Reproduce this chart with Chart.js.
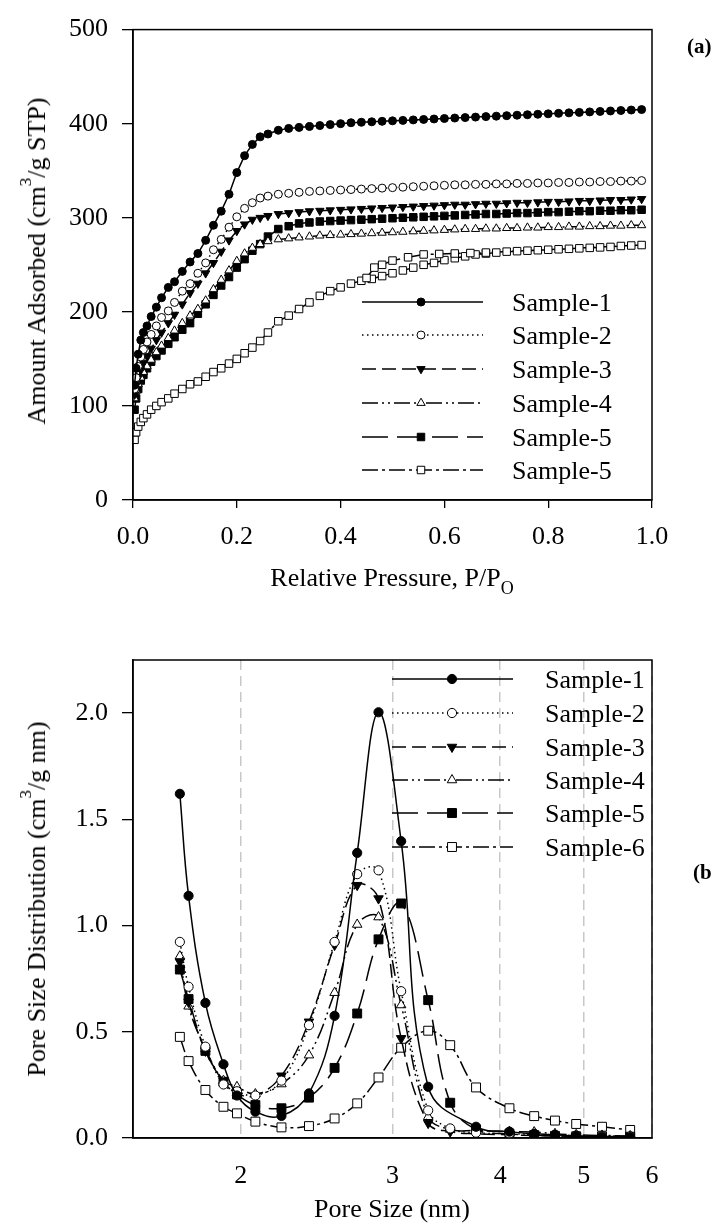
<!DOCTYPE html>
<html>
<head>
<meta charset="utf-8">
<script src="https://cdn.jsdelivr.net/npm/chart.js@4.4.1/dist/chart.umd.min.js"></script>
<style>
  body { margin: 0; background: #fff; width: 712px; height: 1226px; position: relative; overflow: hidden; font-family: "Liberation Serif", "Times New Roman", serif; color: #000; }
  canvas { position: absolute; left: 0; }
  .t { position: absolute; font-size: 26px; line-height: 26px; white-space: nowrap; }
  .yt { transform: translate(-50%, -50%) rotate(-90deg); }
  .xt { transform: translateX(-50%); }
  .t sup { font-size: 17px; line-height: 0; vertical-align: 14px; }
  .t sub { font-size: 18px; line-height: 0; vertical-align: -8px; }
  .tag { position: absolute; font-weight: bold; font-size: 21px; line-height: 21px; white-space: nowrap; }
</style>
</head>
<body>
<canvas id="isotherm" width="712" height="610" style="top:0;width:712px;height:610px"></canvas>
<canvas id="psd" width="712" height="616" style="top:610px;width:712px;height:616px"></canvas>

<div class="t yt" style="left:37px;top:261px">Amount Adsorbed (cm<sup>3</sup>/g STP)</div>
<div class="t xt" style="left:392px;top:565px">Relative Pressure, P/P<sub>O</sub></div>
<div class="tag" style="left:687px;top:36px">(a)</div>

<div class="t yt" style="left:37px;top:899px">Pore Size Distribution (cm<sup>3</sup>/g nm)</div>
<div class="t xt" style="left:392px;top:1196px">Pore Size (nm)</div>
<div class="tag" style="left:693px;top:862px">(b)</div>

<script>
// ---- (a) nitrogen isotherms ----
const pressure = [0.003, 0.006, 0.01, 0.015, 0.02, 0.027, 0.035, 0.045, 0.055, 0.068, 0.08, 0.095, 0.11, 0.125, 0.14, 0.155, 0.17, 0.185, 0.2, 0.215, 0.23, 0.245, 0.26, 0.28, 0.3,
  0.32, 0.34, 0.36, 0.38, 0.4, 0.42, 0.44, 0.46, 0.48, 0.5, 0.52, 0.54, 0.56, 0.58, 0.6, 0.62, 0.64, 0.66, 0.68, 0.7,
  0.72, 0.74, 0.76, 0.78, 0.8, 0.82, 0.84, 0.86, 0.88, 0.9, 0.92, 0.94, 0.96, 0.98];

const sample1Ads = [122, 140, 155, 170, 178, 185, 195, 205, 215, 226, 232, 243, 253, 262, 276, 292, 307, 325, 348, 366, 378, 386, 389, 393, 395,
  396, 397, 398, 399, 400, 401, 401.5, 402, 402.5, 403, 403.5, 404, 404.5, 405, 405.5, 406, 406.5, 407, 407.5, 408,
  408.5, 409, 409.5, 410, 410.5, 411, 411.5, 412, 412.5, 413, 413.5, 414, 414.5, 415];
const sample2Ads = [118, 130, 142, 152, 160, 168, 176, 185, 194, 201, 210, 222, 230, 241, 252, 266, 277, 290, 301, 310, 316, 321, 323, 325, 326,
  327, 328, 328.5, 329, 329.5, 330, 330.5, 331, 331.5, 332, 332.5, 333, 333.5, 334, 334.5, 335, 335, 335.5, 335.5, 336,
  336, 336.5, 336.5, 337, 337, 337.5, 337.5, 338, 338, 338.5, 338.5, 339, 339, 339.5];
const sample3Ads = [112, 122, 130, 138, 146, 153, 161, 170, 178, 188, 197, 208, 220, 230, 241, 252, 264, 276, 286, 293, 298, 300, 302, 304, 305,
  306, 307, 307.5, 308, 308.5, 309, 309.5, 310, 310.5, 311, 311.5, 312, 312.5, 313, 313.5, 314, 314, 314.5, 315, 315,
  315.5, 316, 316, 316.5, 317, 317, 317.5, 318, 318, 318.5, 319, 319, 319.5, 320];
const sample4Ads = [108, 116, 123, 130, 136, 142, 149, 157, 164, 172, 180, 188, 196, 203, 212, 224, 234, 244, 254, 262, 268, 272, 275, 277, 278,
  279, 280, 281, 281.5, 282, 282.5, 283, 283.5, 284, 284.5, 285, 285.5, 286, 286.5, 287, 287.5, 288, 288, 288.5, 288.5,
  289, 289, 289.5, 289.5, 290, 290, 290.5, 290.5, 291, 291, 291.5, 291.5, 292, 292];
const sample5Ads = [96, 108, 118, 127, 133, 140, 147, 153, 159, 166, 173, 181, 188, 198, 208, 218, 228, 237, 247, 256, 265, 272, 280, 288, 291,
  294, 295, 296, 296.5, 297, 297.5, 298, 298.5, 299, 299.5, 300, 300.5, 301, 301.5, 302, 302.5, 303, 303.5, 304, 304,
  304.5, 305, 305, 305.5, 306, 306, 306.5, 307, 307, 307.5, 307.5, 308, 308, 308.5];
const sample6Ads = [64, 72, 78, 83, 87, 91, 96, 100, 104, 108, 113, 118, 123, 126, 131, 136, 140, 145, 150, 156, 162, 169, 178, 190, 196,
  203, 210, 217, 222, 226, 230, 233, 235, 238, 241, 244, 247, 250, 252, 255, 257, 259, 261, 262, 263,
  264, 264.5, 265, 265.5, 266, 266.5, 267, 267.5, 268, 268.5, 269, 270, 270.5, 271];
// desorption branch of the last sample (hysteresis loop)
const sample6DesPressure = [0.68, 0.65, 0.62, 0.59, 0.56, 0.53, 0.5, 0.48, 0.465, 0.45];
const sample6DesAmount = [263, 262.5, 262, 261.5, 261, 258, 254.5, 250, 247, 236];

const seriesNamesA = ["Sample-1", "Sample-2", "Sample-3", "Sample-4", "Sample-5", "Sample-5"];

// ---- (b) pore size distribution ----
const poreSize = [1.70, 1.74, 1.82, 1.91, 1.98, 2.08, 2.23, 2.40, 2.57, 2.73, 2.89, 3.07, 3.30, 3.50, 3.75, 4.10, 4.38, 4.63, 4.90, 5.25, 5.66];
const psd1 = [1.62, 1.14, 0.636, 0.347, 0.20, 0.124, 0.104, 0.21, 0.575, 1.342, 2.004, 1.397, 0.241, null, 0.053, 0.03, 0.02, 0.015, 0.01, 0.006, 0.004];
const psd2 = [0.923, 0.712, 0.43, 0.252, 0.22, 0.20, 0.27, 0.531, 0.923, 1.242, 1.26, 0.691, 0.13, 0.045, 0.025, 0.02, 0.018, 0.015, 0.012, 0.01, 0.008];
const psd3 = [0.83, 0.64, 0.41, 0.27, 0.21, 0.20, 0.293, 0.547, 0.908, 1.19, 1.127, 0.469, 0.07, 0.03, 0.02, 0.015, 0.012, 0.01, 0.008, 0.006, 0.005];
const psd4 = [0.856, 0.62, 0.42, 0.27, 0.241, 0.207, 0.254, 0.39, 0.684, 1.005, 1.04, 0.626, 0.10, 0.04, 0.035, 0.03, 0.028, 0.02, 0.015, 0.012, 0.01];
const psd5 = [0.793, 0.654, 0.41, 0.265, 0.205, 0.155, 0.14, 0.19, 0.33, 0.586, 0.935, 1.104, 0.649, 0.166, 0.04, 0.02, 0.014, 0.01, 0.008, 0.007, 0.006];
const psd6 = [0.476, 0.362, 0.226, 0.147, 0.116, 0.077, 0.05, 0.056, 0.092, 0.163, 0.285, 0.425, 0.505, 0.437, 0.238, 0.14, 0.103, 0.082, 0.066, 0.053, 0.038];

const seriesNamesB = ["Sample-1", "Sample-2", "Sample-3", "Sample-4", "Sample-5", "Sample-6"];
const poreTicks = [2, 3, 4, 5, 6];

// marker + line style per sample
const looks = [
  { pointStyle: "circle",   fill: "#000", rotation: 0,   dash: [],                 rA: 4,   rB: 4.6 },
  { pointStyle: "circle",   fill: "#fff", rotation: 0,   dash: [1.5, 3.5],         rA: 4,   rB: 4.6 },
  { pointStyle: "triangle", fill: "#000", rotation: 180, dash: [14, 6],            rA: 4.8, rB: 5.5 },
  { pointStyle: "triangle", fill: "#fff", rotation: 0,   dash: [16, 4, 2, 4, 2, 4], rA: 4.8, rB: 5.5 },
  { pointStyle: "rect",     fill: "#000", rotation: 0,   dash: [26, 9],            rA: 5.3, rB: 6.3 },
  { pointStyle: "rect",     fill: "#fff", rotation: 0,   dash: [16, 4, 3, 4],      rA: 5.3, rB: 6.3 },
];

const serif = "'Liberation Serif', 'Times New Roman', serif";
const tickFont = { family: serif, size: 26 };

const frame = {
  id: "frame",
  afterDraw(chart) {
    const { ctx, chartArea: a } = chart;
    ctx.save();
    ctx.strokeStyle = "#000";
    ctx.lineWidth = 1.5;
    ctx.strokeRect(a.left, a.top, a.right - a.left, a.bottom - a.top);
    ctx.restore();
  },
};

const sampleLegend = {
  id: "sampleLegend",
  afterDatasetsDraw(chart, args, opts) {
    const ctx = chart.ctx;
    chart.data.datasets.forEach((ds, i) => {
      const y = opts.rows[i];
      ctx.save();
      ctx.strokeStyle = "#000";
      ctx.lineWidth = ds.borderWidth;
      ctx.setLineDash(ds.borderDash);
      ctx.beginPath();
      ctx.moveTo(opts.lineFrom, y);
      ctx.lineTo(opts.lineTo, y);
      ctx.stroke();
      ctx.setLineDash([]);
      ctx.fillStyle = ds.pointBackgroundColor;
      ctx.lineWidth = 1;
      Chart.helpers.drawPoint(ctx, {
        pointStyle: ds.pointStyle,
        rotation: ds.pointRotation,
        radius: ds.pointRadius,
        borderWidth: 1,
      }, opts.markerX, y);
      ctx.fillStyle = "#000";
      ctx.font = "26px " + serif;
      ctx.textBaseline = "alphabetic";
      ctx.fillText(ds.label, opts.textX, y + 9);
      ctx.restore();
    });
  },
};

function makeSet(label, pts, look, radius, tension) {
  return {
    label: label,
    data: pts,
    borderColor: "#000",
    borderWidth: 1.5,
    borderDash: look.dash,
    pointStyle: look.pointStyle,
    pointRotation: look.rotation,
    pointRadius: radius,
    pointBackgroundColor: look.fill,
    pointBorderColor: "#000",
    pointBorderWidth: 1,
    tension: tension,
    spanGaps: true,
    fill: false,
  };
}

const adsSeries = [sample1Ads, sample2Ads, sample3Ads, sample4Ads, sample5Ads, sample6Ads];
const adsSets = adsSeries.map((vals, i) => {
  let pts = pressure.map((p, k) => ({ x: p, y: vals[k] }));
  if (i === 5) {
    pts = pts.concat(sample6DesPressure.map((p, k) => ({ x: p, y: sample6DesAmount[k] })));
  }
  return makeSet(seriesNamesA[i], pts, looks[i], looks[i].rA, 0);
});

new Chart(document.getElementById("isotherm"), {
  type: "line",
  data: { datasets: adsSets },
  options: {
    responsive: false,
    animation: false,
    devicePixelRatio: 1,
    layout: { padding: { left: 0, right: 60, top: 22, bottom: 0 } },
    plugins: {
      legend: { display: false },
      tooltip: { enabled: false },
      sampleLegend: { rows: [302, 335, 369, 403, 437, 470], lineFrom: 362, lineTo: 483, markerX: 421, textX: 512 },
    },
    scales: {
      x: {
        type: "linear",
        min: 0,
        max: 1,
        ticks: { stepSize: 0.2, callback: (v) => v.toFixed(1), font: tickFont, color: "#000", padding: 14, maxRotation: 0, autoSkip: false },
        grid: { drawOnChartArea: false, drawTicks: true, tickLength: 8, color: "#000", lineWidth: 1.3 },
        border: { display: true, color: "#000", width: 1.5 },
        afterFit: (s) => { s.height = 110; },
      },
      y: {
        min: 0,
        max: 500,
        ticks: { stepSize: 100, font: tickFont, color: "#000", padding: 14 },
        grid: { drawOnChartArea: false, drawTicks: true, tickLength: 11, color: "#000", lineWidth: 1.3 },
        border: { display: true, color: "#000", width: 1.5 },
        afterFit: (s) => { s.width = 133; },
      },
    },
  },
  plugins: [sampleLegend, frame],
});

const psdSeries = [psd1, psd2, psd3, psd4, psd5, psd6];
const psdSets = psdSeries.map((vals, i) =>
  makeSet(seriesNamesB[i], poreSize.map((d, k) => ({ x: d, y: vals[k] })), looks[i], looks[i].rB, 0.4)
);

new Chart(document.getElementById("psd"), {
  type: "line",
  data: { datasets: psdSets },
  options: {
    responsive: false,
    animation: false,
    devicePixelRatio: 1,
    layout: { padding: { left: 0, right: 60, top: 50, bottom: 0 } },
    plugins: {
      legend: { display: false },
      tooltip: { enabled: false },
      sampleLegend: { rows: [69, 103, 137, 170, 203, 237], lineFrom: 392, lineTo: 513, markerX: 452, textX: 545 },
    },
    scales: {
      x: {
        type: "logarithmic",
        min: 1.5,
        max: 6,
        afterBuildTicks: (s) => { s.ticks = poreTicks.map((v) => ({ value: v })); },
        ticks: { callback: (v) => String(v), font: tickFont, color: "#000", padding: 23, maxRotation: 0, autoSkip: false },
        grid: { drawOnChartArea: true, drawTicks: false, color: "#c8c8c8", lineWidth: 1.5 },
        border: { display: true, color: "#000", width: 1.5, dash: [10, 6] },
        afterFit: (s) => { s.height = 88; },
      },
      y: {
        min: 0,
        max: 2.25,
        ticks: { stepSize: 0.5, includeBounds: false, callback: (v) => v.toFixed(1), font: tickFont, color: "#000", padding: 14 },
        grid: { drawOnChartArea: false, drawTicks: true, tickLength: 11, color: "#000", lineWidth: 1.3 },
        border: { display: true, color: "#000", width: 1.5 },
        afterFit: (s) => { s.width = 133; },
      },
    },
  },
  plugins: [sampleLegend, frame],
});
</script>
</body>
</html>
